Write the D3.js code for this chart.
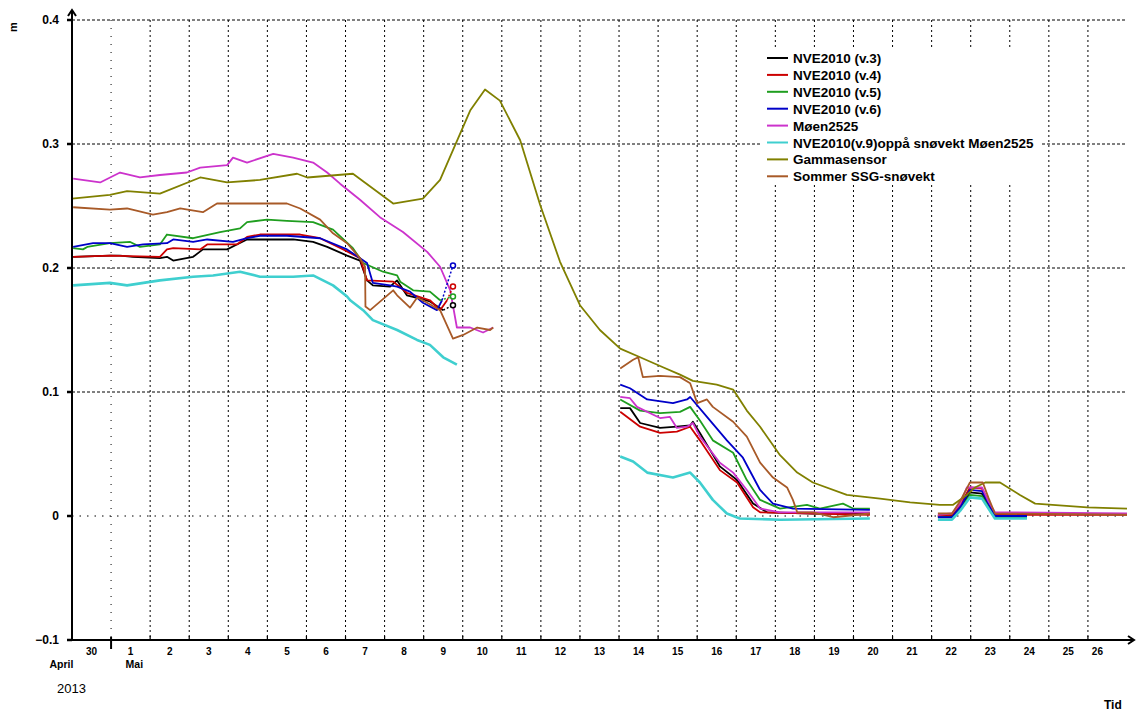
<!DOCTYPE html>
<html lang="no">
<head>
  <meta charset="UTF-8">
  <title>Snøvekt mai 2013</title>
  <style>
    body { margin: 0; background: #fff; }
    text { font-family: "Liberation Sans", Arial, sans-serif; }
  </style>
</head>
<body>
  <svg id="svg" width="1136" height="713"></svg>

  <script src="https://d3js.org/d3.v7.min.js"></script>
  <script>
    // days counted from 30 April 2013 00:00, value in m; [day, null] = gap
    const nve3 = [
      [0.03,0.209],[0.97,0.210],[1.23,0.210],[1.56,0.209],[2.25,0.208],[2.43,0.209],[2.59,0.206],[3.10,0.209],
      [3.35,0.215],[3.97,0.215],[4.22,0.219],[4.48,0.223],[4.81,0.223],[5.66,0.223],[6.17,0.221],[6.53,0.217],
      [7.04,0.210],[7.37,0.206],[7.55,0.190],[7.70,0.186],[8.14,0.185],[8.32,0.190],[8.57,0.178],[8.83,0.176],
      [9.16,0.173],[9.50,0.166],[9.60,null],
      [14.03,0.087],[14.28,0.087],[14.54,0.075],[15.05,0.071],[15.48,0.072],[15.82,0.073],[15.89,0.076],[16.07,0.067],
      [16.58,0.040],[17.02,0.029],[17.43,0.010],[17.79,0.003],[18.96,0.002],[20.42,0.002],[20.5,null],
      [22.16,0.000],[22.52,0.000],[22.75,0.007],[22.98,0.019],[23.29,0.018],[23.62,0.000],[24.44,0.000]
    ]
    const nve4 = [
      [0.03,0.209],[0.97,0.210],[2.25,0.209],[2.43,0.215],[2.59,0.216],[3.28,0.215],[3.46,0.219],[4.22,0.219],
      [4.48,0.225],[4.81,0.227],[5.84,0.227],[6.35,0.224],[6.94,0.215],[7.37,0.208],[7.55,0.190],[8.22,0.189],
      [8.57,0.180],[9.16,0.174],[9.42,0.166],[9.60,0.174],[9.65,null],
      [14.03,0.084],[14.54,0.072],[15.05,0.067],[15.48,0.068],[15.82,0.072],[16.07,0.061],[16.58,0.037],[17.02,0.027],
      [17.43,0.007],[17.61,0.003],[20.42,0.001],[20.5,null],
      [22.16,0.000],[22.52,0.001],[22.75,0.010],[22.98,0.023],[23.29,0.022],[23.62,0.001],[27.0,0.001]
    ]
    const nve5 = [
      [0.03,0.216],[0.28,0.215],[0.39,0.217],[0.97,0.220],[1.49,0.221],[1.74,0.217],[2.25,0.219],[2.43,0.227],
      [3.10,0.224],[3.79,0.229],[4.30,0.232],[4.48,0.237],[4.99,0.239],[5.50,0.238],[6.17,0.237],[6.68,0.231],
      [7.19,0.216],[7.45,0.204],[7.96,0.197],[8.32,0.194],[8.40,0.189],[8.73,0.182],[9.16,0.181],[9.42,0.174],[9.50,null],
      [14.03,0.094],[14.54,0.085],[15.05,0.083],[15.56,0.084],[15.82,0.088],[16.07,0.077],[16.40,0.061],[16.92,0.051],
      [17.27,0.029],[17.61,0.013],[18.12,0.006],[18.81,0.009],[19.14,0.006],[19.73,0.010],[19.99,0.006],[20.42,0.006],[20.5,null],
      [22.16,-0.001],[22.52,-0.001],[22.75,0.006],[22.98,0.017],[23.29,0.016],[23.62,-0.001],[24.44,-0.001]
    ]
    const nve6 = [
      [0.03,0.217],[0.54,0.220],[0.97,0.220],[1.41,0.217],[1.82,0.219],[2.43,0.220],[2.59,0.223],[3.10,0.221],
      [3.46,0.223],[4.12,0.221],[4.48,0.224],[4.81,0.226],[5.50,0.226],[6.35,0.224],[7.04,0.215],[7.55,0.204],
      [7.70,0.188],[8.14,0.186],[8.32,0.185],[8.65,0.181],[8.98,0.172],[9.34,0.166],[9.47,0.174],[9.55,null],
      [14.03,0.106],[14.28,0.103],[14.72,0.094],[15.38,0.091],[15.74,0.094],[15.82,0.096],[16.25,0.080],[16.76,0.061],
      [17.17,0.047],[17.61,0.021],[17.94,0.010],[18.45,0.006],[20.42,0.005],[20.5,null],
      [22.16,-0.001],[22.52,-0.001],[22.75,0.008],[22.98,0.021],[23.29,0.020],[23.62,0.000],[24.44,0.000]
    ]
    const moen2525 = [
      [0.03,0.272],[0.72,0.269],[1.23,0.277],[1.74,0.273],[2.25,0.275],[2.94,0.277],[3.28,0.281],[3.97,0.283],
      [4.12,0.289],[4.48,0.285],[5.15,0.292],[5.66,0.289],[6.17,0.285],[6.53,0.277],[6.86,0.268],[7.37,0.255],
      [7.88,0.241],[8.47,0.229],[9.09,0.213],[9.42,0.201],[9.68,0.182],[9.85,0.152],[10.19,0.152],[10.52,0.148],
      [10.78,0.152],[10.9,null],
      [14.03,0.096],[14.28,0.095],[14.46,0.088],[15.05,0.079],[15.30,0.080],[15.48,0.071],[15.74,0.072],[15.89,0.075],
      [16.07,0.064],[16.58,0.043],[16.92,0.035],[17.27,0.021],[17.61,0.006],[18.12,0.003],[20.42,0.003],[20.5,null],
      [22.16,0.001],[22.52,0.002],[22.73,0.010],[22.90,0.023],[23.29,0.023],[23.45,0.012],[23.62,0.003],[27.0,0.002]
    ]
    const nve9 = [
      [0.03,0.186],[0.97,0.188],[1.41,0.186],[2.25,0.190],[3.10,0.193],[3.61,0.194],[4.30,0.197],[4.81,0.193],
      [5.66,0.193],[6.17,0.194],[6.68,0.186],[7.04,0.177],[7.12,0.174],[7.45,0.166],[7.70,0.158],[8.32,0.150],
      [8.83,0.142],[9.16,0.138],[9.50,0.128],[9.85,0.122],[9.9,null],
      [14.03,0.048],[14.36,0.044],[14.72,0.035],[15.38,0.031],[15.82,0.035],[16.07,0.027],[16.40,0.013],[16.76,0.002],
      [17.09,-0.002],[18.12,-0.003],[20.42,-0.002],[20.5,null],
      [22.16,-0.003],[22.52,-0.003],[22.75,0.005],[22.98,0.015],[23.29,0.014],[23.62,-0.002],[24.44,-0.002]
    ]
    const gamma = [
      [0.00,0.256],[0.97,0.259],[1.41,0.262],[2.25,0.260],[3.28,0.273],[3.97,0.269],[4.81,0.271],[5.76,0.276],
      [6.02,0.273],[7.19,0.276],[8.22,0.252],[8.98,0.256],[9.42,0.271],[9.75,0.295],[10.19,0.327],[10.57,0.344],
      [10.95,0.335],[11.47,0.303],[11.98,0.251],[12.49,0.205],[13.00,0.170],[13.51,0.150],[14.03,0.135],[14.54,0.128],
      [15.05,0.121],[15.56,0.114],[15.89,0.109],[16.50,0.106],[16.92,0.102],[17.27,0.085],[17.61,0.072],[18.12,0.049],
      [18.56,0.035],[18.96,0.027],[19.83,0.017],[20.68,0.014],[21.45,0.011],[22.21,0.009],[22.55,0.009],[22.90,0.017],
      [23.11,0.023],[23.37,0.027],[23.75,0.027],[24.26,0.017],[24.65,0.010],[25.98,0.007],[27.0,0.006]
    ]
    const sommerSSG = [
      [0.03,0.249],[0.97,0.247],[1.41,0.248],[2.07,0.243],[2.43,0.245],[2.77,0.248],[3.35,0.245],[3.71,0.252],
      [4.48,0.252],[4.81,0.252],[5.50,0.252],[5.84,0.248],[6.35,0.239],[6.68,0.228],[7.04,0.220],[7.37,0.208],
      [7.50,0.201],[7.51,0.169],[7.63,0.166],[8.22,0.182],[8.32,0.178],[8.65,0.168],[8.83,0.176],[8.98,0.174],
      [9.42,0.166],[9.75,0.143],[10.01,0.146],[10.37,0.152],[10.70,0.150],[10.78,0.152],[10.9,null],
      [14.03,0.119],[14.36,0.126],[14.49,0.128],[14.61,0.112],[15.05,0.113],[15.56,0.112],[15.82,0.107],[16.00,0.091],
      [16.25,0.094],[16.40,0.088],[16.92,0.076],[17.27,0.064],[17.61,0.043],[17.94,0.031],[18.30,0.023],[18.45,0.013],
      [18.56,0.003],[18.96,0.003],[19.48,-0.001],[20.42,0.002],[20.5,null],
      [22.16,0.002],[22.52,0.002],[22.73,0.012],[22.98,0.027],[23.31,0.027],[23.45,0.015],[23.62,0.002],[27.0,0.001]
    ]

    const seriesNames = ['NVE2010 (v.3)', 'NVE2010 (v.4)', 'NVE2010 (v.5)', 'NVE2010 (v.6)', 'Møen2525',
      'NVE2010(v.9)oppå snøvekt Møen2525', 'Gammasensor', 'Sommer SSG-snøvekt']
    const seriesData = [nve3, nve4, nve5, nve6, moen2525, nve9, gamma, sommerSSG]
    const seriesColors = ['#000000', '#cc0000', '#1f9e1f', '#0000c8', '#cc33cc', '#3fcfcf', '#808000', '#a85a28']
    const seriesWidths = [1.8, 1.8, 1.8, 1.8, 1.8, 2.6, 1.8, 1.8]

    // last reading of the first period, drawn as a small circle: [series, day, value]
    const endMarkers = [[0, 9.75, 0.170], [1, 9.75, 0.185], [2, 9.75, 0.177], [3, 9.75, 0.202]]

    const dayLabels = ['30', '1', '2', '3', '4', '5', '6', '7', '8', '9', '10', '11', '12', '13',
      '14', '15', '16', '17', '18', '19', '20', '21', '22', '23', '24', '25', '26']
    const yTicks = [-0.1, 0, 0.1, 0.2, 0.3, 0.4]

    const t0 = Date.UTC(2013, 3, 30)
    const toDate = d => new Date(t0 + d * 864e5)

    const xScale = d3.scaleUtc()
      .domain([toDate(0), toDate(27)])
      .range([72, 1127])
    const yScale = d3.scaleLinear()
      .domain([-0.1, 0.4])
      .range([640, 20])

    const svg = d3.select('#svg')
    const fmt = d3.format('.1f')

    // grid
    const dayBounds = d3.range(1, 27)
    svg.append('g').selectAll('line')
      .data(dayBounds)
      .join('line')
      .attr('x1', d => xScale(toDate(d))).attr('x2', d => xScale(toDate(d)))
      .attr('y1', yScale(0.4)).attr('y2', yScale(-0.1))
      .attr('stroke', '#000')
      .attr('stroke-width', 1)
      .attr('stroke-dasharray', d => d === 1 ? '1,7' : '2,3')
    svg.append('g').selectAll('line')
      .data(yTicks.filter(v => v > -0.1))
      .join('line')
      .attr('x1', 72).attr('x2', 1127)
      .attr('y1', d => yScale(d)).attr('y2', d => yScale(d))
      .attr('stroke', '#000')
      .attr('stroke-width', 1)
      .attr('stroke-dasharray', d => d === 0 ? '1.5,6' : '3,2')

    // legend background hides the grid
    svg.append('rect')
      .attr('x', 762).attr('y', 47).attr('width', 280).attr('height', 137)
      .attr('fill', '#fff')

    // series
    const line = d3.line()
      .defined(p => p[1] !== null)
      .x(p => xScale(toDate(p[0])))
      .y(p => yScale(p[1]))

    seriesData.forEach((data, i) => {
      svg.append('path')
        .attr('d', line(data))
        .attr('fill', 'none')
        .attr('stroke', seriesColors[i])
        .attr('stroke-width', seriesWidths[i])
        .attr('stroke-linejoin', 'round')
    })

    endMarkers.forEach(([i, day, value]) => {
      const data = seriesData[i]
      const prev = data.filter(p => p[1] !== null && p[0] < day).pop()
      svg.append('line')
        .attr('x1', xScale(toDate(prev[0]))).attr('y1', yScale(prev[1]))
        .attr('x2', xScale(toDate(day))).attr('y2', yScale(value))
        .attr('stroke', seriesColors[i])
        .attr('stroke-width', 1.5)
        .attr('stroke-dasharray', '2,2')
      svg.append('circle')
        .attr('cx', xScale(toDate(day))).attr('cy', yScale(value))
        .attr('r', 2.5)
        .attr('fill', '#fff')
        .attr('stroke', seriesColors[i])
        .attr('stroke-width', 1.5)
    })

    // axes
    svg.append('path')
      .attr('d', 'M72,641 V10 M68,16 L72,10 L76,16')
      .attr('fill', 'none').attr('stroke', '#000').attr('stroke-width', 2)
    svg.append('path')
      .attr('d', 'M71,640 H1134 M1128,636 L1134,640 L1128,644')
      .attr('fill', 'none').attr('stroke', '#000').attr('stroke-width', 2)

    svg.append('g').selectAll('line')
      .data(yTicks)
      .join('line')
      .attr('x1', 67).attr('x2', 72)
      .attr('y1', d => yScale(d)).attr('y2', d => yScale(d))
      .attr('stroke', '#000').attr('stroke-width', 2.5)
    svg.append('g').selectAll('text')
      .data(yTicks)
      .join('text')
      .attr('x', 59)
      .attr('y', d => yScale(d) + 4)
      .attr('text-anchor', 'end')
      .attr('font-size', 12)
      .attr('font-weight', 'bold')
      .text(d => fmt(d) === '0.0' ? '0' : fmt(d))

    svg.append('g').selectAll('line')
      .data(dayBounds)
      .join('line')
      .attr('x1', d => xScale(toDate(d))).attr('x2', d => xScale(toDate(d)))
      .attr('y1', d => d === 1 ? 637 : 636)
      .attr('y2', d => d === 1 ? 649 : 640)
      .attr('stroke', '#000')
      .attr('stroke-width', d => d === 1 ? 2 : 1.2)

    svg.append('g').selectAll('text')
      .data(dayLabels)
      .join('text')
      .attr('x', (d, i) => xScale(toDate(i === 26 ? i + 0.1 : i + 0.5)))
      .attr('y', 655)
      .attr('text-anchor', (d, i) => i === 26 ? 'start' : 'middle')
      .attr('font-size', 10)
      .attr('font-weight', 'bold')
      .text(d => d)

    svg.append('text').attr('x', xScale(toDate(0.5)) - 42).attr('y', 668)
      .attr('font-size', 10.5).attr('font-weight', 'bold').text('April')
    svg.append('text').attr('x', xScale(toDate(1.5)) - 5).attr('y', 668)
      .attr('font-size', 10.5).attr('font-weight', 'bold').text('Mai')
    svg.append('text').attr('x', 57).attr('y', 693)
      .attr('font-size', 13).text('2013')
    svg.append('text').attr('x', 1104).attr('y', 709)
      .attr('font-size', 12).attr('font-weight', 'bold').text('Tid')
    svg.append('text')
      .attr('transform', 'translate(17,27) rotate(-90)')
      .attr('text-anchor', 'middle')
      .attr('font-size', 11).attr('font-weight', 'bold').text('m')

    // legend
    const legend = svg.append('g').selectAll('g')
      .data(seriesNames)
      .join('g')
      .attr('transform', (d, i) => `translate(767,${58 + i * 16.9})`)
    legend.append('line')
      .attr('x1', 0).attr('x2', 21)
      .attr('stroke', (d, i) => seriesColors[i])
      .attr('stroke-width', 2)
    legend.append('text')
      .attr('x', 26).attr('y', 5)
      .attr('font-size', 13.5)
      .attr('font-weight', 'bold')
      .text(d => d)
  </script>
</body>
</html>
